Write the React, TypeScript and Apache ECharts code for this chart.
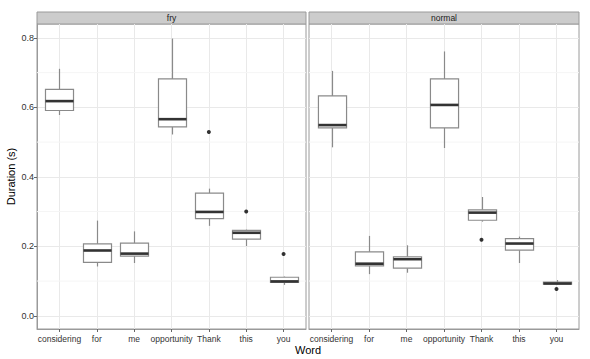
import React, { useEffect, useRef } from 'react';
import * as echarts from 'echarts';

const CATEGORIES = ['considering', 'for', 'me', 'opportunity', 'Thank', 'this', 'you'];
const PANELS = ['fry', 'normal'];

// fry: whisker low, Q1, median, Q3, whisker high
const FRY_LOW = [0.578, 0.142, 0.152, 0.522, 0.259, 0.201, 0.089];
const FRY_Q1 = [0.591, 0.154, 0.172, 0.544, 0.28, 0.221, 0.096];
const FRY_MED = [0.618, 0.188, 0.179, 0.566, 0.299, 0.239, 0.099];
const FRY_Q3 = [0.652, 0.207, 0.209, 0.682, 0.353, 0.246, 0.111];
const FRY_HIGH = [0.711, 0.274, 0.243, 0.798, 0.366, 0.248, 0.113];
const FRY_OUT_WORD = ['Thank', 'this', 'you'];
const FRY_OUT_VAL = [0.529, 0.3, 0.178];

// normal
const NORMAL_LOW = [0.485, 0.12, 0.124, 0.483, 0.271, 0.152, 0.089];
const NORMAL_Q1 = [0.541, 0.144, 0.137, 0.541, 0.275, 0.189, 0.091];
const NORMAL_MED = [0.549, 0.15, 0.163, 0.607, 0.297, 0.208, 0.093];
const NORMAL_Q3 = [0.633, 0.184, 0.17, 0.682, 0.305, 0.222, 0.097];
const NORMAL_HIGH = [0.705, 0.23, 0.203, 0.761, 0.342, 0.228, 0.103];
const NORMAL_OUT_WORD = ['Thank', 'you'];
const NORMAL_OUT_VAL = [0.219, 0.077];

const Y_TICKS = [0, 0.2, 0.4, 0.6, 0.8];
const Y_MINOR = [0.1, 0.3, 0.5, 0.7];
const X_TICKS = CATEGORIES.map((_, i) => i);

const FONT = 'Liberation Sans, Arial, sans-serif';
const BOX = '#8a8a8a';
const BORDER = '#9a9a9a';
const GRID_MAJOR = '#e9e9e9';
const GRID_MINOR = '#f5f5f5';

const GRIDS = [
  { left: 37, top: 24, width: 269, height: 305 },
  { left: 309, top: 24, width: 270, height: 305 },
];

function boxRows(low: number[], q1: number[], med: number[], q3: number[], high: number[]) {
  return CATEGORIES.map((_, i) => [i, low[i], q1[i], med[i], q3[i], high[i]]);
}

const renderBox = (_params: any, api: any) => {
  const x = api.value(0);
  const low = api.coord([x, api.value(1)]);
  const q1 = api.coord([x, api.value(2)]);
  const med = api.coord([x, api.value(3)]);
  const q3 = api.coord([x, api.value(4)]);
  const high = api.coord([x, api.value(5)]);
  const w = api.size([0.75, 0])[0];
  const cx = Math.round(low[0]) + 0.5;
  return {
    type: 'group',
    children: [
      { type: 'line', shape: { x1: cx, y1: high[1], x2: cx, y2: q3[1] }, style: { stroke: BOX, lineWidth: 1.2 } },
      { type: 'line', shape: { x1: cx, y1: q1[1], x2: cx, y2: low[1] }, style: { stroke: BOX, lineWidth: 1.2 } },
      {
        type: 'rect',
        shape: { x: cx - w / 2, y: q3[1], width: w, height: q1[1] - q3[1] },
        style: { fill: '#ffffff', stroke: BOX, lineWidth: 1.2 },
      },
      { type: 'line', shape: { x1: cx - w / 2, y1: med[1], x2: cx + w / 2, y2: med[1] }, style: { stroke: '#333333', lineWidth: 2.6 } },
    ],
  };
};

const renderMinor = (params: any, api: any) => {
  const p = api.coord([0, api.value(1)]);
  const cs = params.coordSys;
  return {
    type: 'line',
    shape: { x1: cs.x, y1: p[1], x2: cs.x + cs.width, y2: p[1] },
    style: { stroke: GRID_MINOR, lineWidth: 1 },
  };
};

export default function App() {
  const ref = useRef<HTMLDivElement>(null);

  useEffect(() => {
    if (!ref.current) return;
    const chart = echarts.init(ref.current, undefined, { renderer: 'svg' });

    const boxData = [
      boxRows(FRY_LOW, FRY_Q1, FRY_MED, FRY_Q3, FRY_HIGH),
      boxRows(NORMAL_LOW, NORMAL_Q1, NORMAL_MED, NORMAL_Q3, NORMAL_HIGH),
    ];
    const outData = [
      FRY_OUT_WORD.map((w, i) => [CATEGORIES.indexOf(w), FRY_OUT_VAL[i]]),
      NORMAL_OUT_WORD.map((w, i) => [CATEGORIES.indexOf(w), NORMAL_OUT_VAL[i]]),
    ];

    const series: any[] = [];
    PANELS.forEach((_, gi) => {
      series.push({
        type: 'custom',
        xAxisIndex: gi,
        yAxisIndex: gi,
        renderItem: renderMinor,
        data: Y_MINOR.map((v) => [0, v]),
        encode: { x: 0, y: 1 },
        silent: true,
        z: 1,
      });
      series.push({
        type: 'custom',
        xAxisIndex: gi,
        yAxisIndex: gi,
        renderItem: renderBox,
        data: boxData[gi],
        encode: { x: 0, y: [1, 2, 3, 4, 5] },
        z: 3,
      });
      series.push({
        type: 'scatter',
        xAxisIndex: gi,
        yAxisIndex: gi,
        data: outData[gi],
        symbol: 'circle',
        symbolSize: 4,
        itemStyle: { color: '#000000' },
        z: 4,
      });
    });

    const graphics: any[] = [];
    PANELS.forEach((name, gi) => {
      const g = GRIDS[gi];
      graphics.push({
        type: 'rect',
        shape: { x: g.left, y: 12, width: g.width, height: 12 },
        style: { fill: '#cccccc', stroke: BORDER, lineWidth: 1 },
      });
      graphics.push({
        type: 'text',
        x: g.left + g.width / 2,
        y: 18,
        style: { text: name, fill: '#1a1a1a', font: `8.5px ${FONT}`, align: 'center', verticalAlign: 'middle' },
      });
    });
    graphics.push({
      type: 'text',
      x: 308,
      y: 350,
      style: { text: 'Word', fill: '#000', font: `11px ${FONT}`, align: 'center', verticalAlign: 'middle' },
    });

    chart.setOption({
      animation: false,
      backgroundColor: '#ffffff',
      grid: GRIDS.map((g) => ({
        ...g,
        show: true,
        backgroundColor: '#ffffff',
        borderColor: BORDER,
        borderWidth: 1,
        containLabel: false,
      })),
      xAxis: GRIDS.map((_, gi) => ({
        type: 'value',
        gridIndex: gi,
        min: -0.6,
        max: 6.6,
        splitNumber: 7,
        axisLine: { show: true, onZero: false, lineStyle: { color: BORDER } },
        axisTick: { show: true, length: 3, customValues: X_TICKS, lineStyle: { color: '#666' } },
        axisLabel: {
          show: true,
          customValues: X_TICKS,
          formatter: (v: number) => CATEGORIES[Math.round(v)] ?? '',
          fontSize: 8.5,
          fontFamily: FONT,
          color: '#333',
          margin: 5,
        },
        splitLine: { show: true, lineStyle: { color: GRID_MAJOR, width: 1 } },
      })),
      yAxis: GRIDS.map((_, gi) => ({
        type: 'value',
        gridIndex: gi,
        min: -0.038,
        max: 0.84,
        name: gi === 0 ? 'Duration (s)' : '',
        nameLocation: 'middle',
        nameGap: 21,
        nameRotate: 90,
        nameTextStyle: { fontSize: 11, fontFamily: FONT, color: '#000' },
        axisLine: { show: gi === 0, onZero: false, lineStyle: { color: BORDER } },
        axisTick: { show: gi === 0, length: 3, customValues: Y_TICKS, lineStyle: { color: '#666' } },
        axisLabel: {
          show: gi === 0,
          customValues: Y_TICKS,
          formatter: (v: number) => v.toFixed(1),
          fontSize: 9,
          fontFamily: FONT,
          color: '#333',
          margin: 3,
        },
        splitLine: { show: true, lineStyle: { color: GRID_MAJOR, width: 1 } },
      })),
      graphic: graphics,
      series,
    });

    return () => chart.dispose();
  }, []);

  return <div ref={ref} style={{ position: 'fixed', left: 0, top: 0, width: 590, height: 359 }} />;
}
